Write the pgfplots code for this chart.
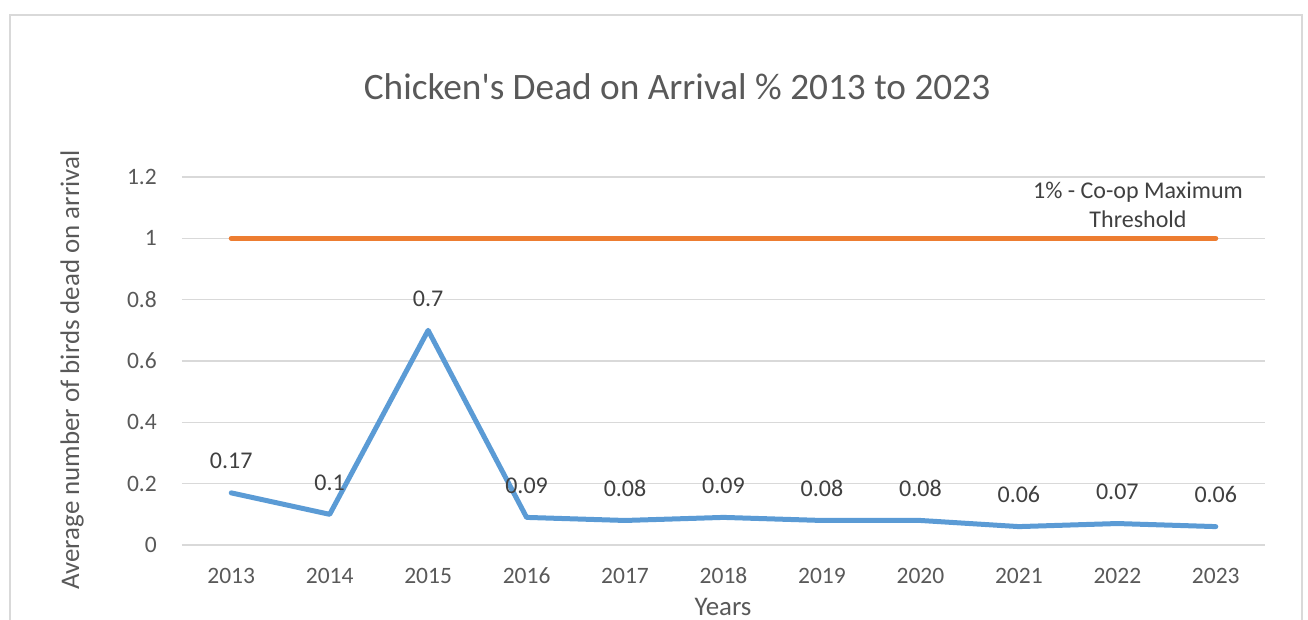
\documentclass[border=0pt]{standalone}
\usepackage{pgfplots}
\pgfplotsset{compat=1.18}
\usepackage{fontspec}
\newfontfamily\cf{Carlito}
\definecolor{txt}{HTML}{595959}
\definecolor{lab}{HTML}{404040}
\definecolor{gridc}{HTML}{D9D9D9}
\definecolor{bluel}{HTML}{5B9BD5}
\definecolor{orangel}{HTML}{ED7D31}
\begin{document}
\begin{tikzpicture}
\begin{axis}[
  name=ax,
  scale only axis, width=1083pt, height=368pt,
  xmin=-0.5, xmax=10.5, ymin=0, ymax=1.2,
  axis line style={draw=none},
  major tick length=0,
  xtick={0,...,10},
  xticklabels={2013,2014,2015,2016,2017,2018,2019,2020,2021,2022,2023},
  ytick={0,0.2,0.4,0.6,0.8,1,1.2},
  yticklabels={0,0.2,0.4,0.6,0.8,1,1.2},
  ymajorgrids, grid style={gridc, line width=1.5pt},
  tick label style={font=\cf\fontsize{23.5}{28}\selectfont, text=txt, inner sep=0},
  xticklabel style={anchor=center, yshift=-31pt},
  yticklabel style={anchor=east, xshift=-25pt},
  clip=false,
]
\addplot[bluel, line width=5pt, line cap=round, line join=round,
  nodes near coords, point meta=explicit symbolic,
  every node near coord/.style={font=\cf\fontsize{24}{29}\selectfont, text=lab, anchor=center, yshift=32pt, inner sep=0}]
  coordinates {(0,0.17)[0.17] (1,0.1)[0.1] (2,0.7)[0.7] (3,0.09)[0.09] (4,0.08)[0.08] (5,0.09)[0.09] (6,0.08)[0.08] (7,0.08)[0.08] (8,0.06)[0.06] (9,0.07)[0.07] (10,0.06)[0.06]};
\addplot[orangel, line width=5pt, line cap=round]
  coordinates {(0,1)(1,1)(2,1)(3,1)(4,1)(5,1)(6,1)(7,1)(8,1)(9,1)(10,1)};
\node[font=\cf\fontsize{24}{29}\selectfont, text=lab, align=center, inner sep=0] at (axis cs:9.21,1.109) {1\% - Co-op Maximum\\Threshold};
\end{axis}
\begin{scope}[shift={(ax.south west)}, x=1pt, y=1pt, shift={(-182pt,-74pt)}]
\pgfresetboundingbox
\useasboundingbox (0,0) rectangle (1308,619);
\begin{scope}
\clip (0,0) rectangle (1308,619);
\draw[gridc, line width=1.5pt] (10,-20) rectangle (1302,604);
\end{scope}
\node[font=\cf\fontsize{37.3}{44}\selectfont, text=txt, inner sep=0] at (677,532) {Chicken's Dead on Arrival \% 2013 to 2023};
\node[font=\cf\fontsize{26.9}{32}\selectfont, text=txt, inner sep=0, anchor=north] at (723,21) {Years};
\node[font=\cf\fontsize{26.9}{32}\selectfont, text=txt, inner sep=0, rotate=90] at (72,249) {Average number of birds dead on arrival};
\end{scope}
\end{tikzpicture}
\end{document}
